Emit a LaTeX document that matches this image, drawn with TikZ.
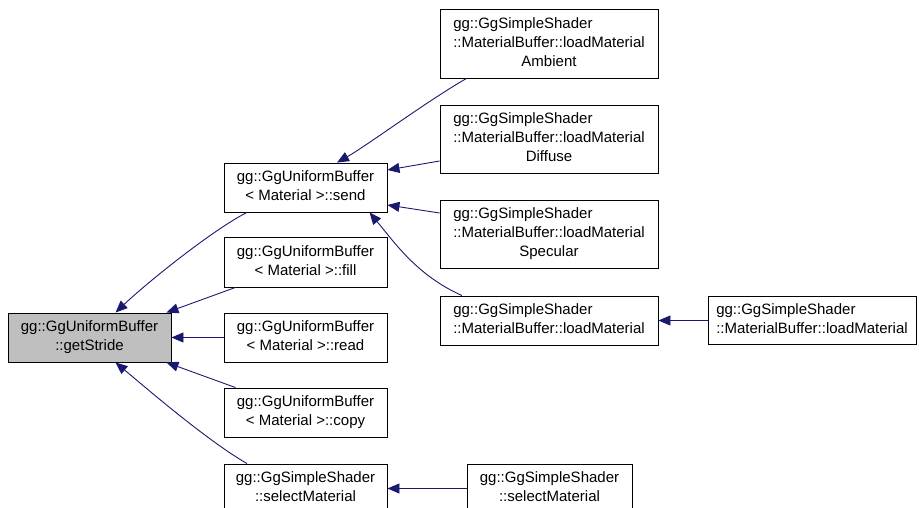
\documentclass[tikz,border=0pt]{standalone}
\usepackage{fontspec}
\setmainfont{Liberation Sans}
\usetikzlibrary{arrows.meta}
\definecolor{edgeblue}{HTML}{191970}
\definecolor{focusgray}{HTML}{BFBFBF}
% label: lines flush left, the last one centred
\newcommand\flab[1]{\begin{tabular}{@{}l@{}}#1\end{tabular}}
\newcommand\lastrow[1]{\multicolumn{1}{@{}c@{}}{#1}}
\begin{document}
\begin{tikzpicture}[x=1pt,y=-1pt,
  fn/.style={draw=black, line width=0.9pt, fill=white,
    inner sep=0pt, font=\fontsize{15}{19}\selectfont},
  focus/.style={fn, fill=focusgray},
  call/.style={draw=edgeblue, line width=0.9pt,
    -{Triangle[length=12pt,width=10pt]}, fill=none}]
\useasboundingbox (0,0) rectangle (919,508);

% functions
\node[focus, minimum width=163pt, minimum height=49pt] (stride) at (89.5,337.5)
  {\flab{gg::GgUniformBuffer\\\lastrow{::getStride}}};
\node[fn, minimum width=163pt, minimum height=49pt] (send) at (305.5,187.5)
  {\flab{gg::GgUniformBuffer\\\lastrow{< Material >::send}}};
\node[fn, minimum width=163pt, minimum height=50pt] (fillf) at (305.5,262)
  {\flab{gg::GgUniformBuffer\\\lastrow{< Material >::fill}}};
\node[fn, minimum width=163pt, minimum height=49pt] (readf) at (305.5,337.5)
  {\flab{gg::GgUniformBuffer\\\lastrow{< Material >::read}}};
\node[fn, minimum width=163pt, minimum height=49pt] (copyf) at (305.5,412.5)
  {\flab{gg::GgUniformBuffer\\\lastrow{< Material >::copy}}};
\node[fn, minimum width=163pt, minimum height=49pt] (selL) at (305.5,488.5)
  {\flab{gg::GgSimpleShader\\\lastrow{::selectMaterial}}};

\node[fn, minimum width=218pt, minimum height=69pt] (amb) at (549,43.5)
  {\flab{gg::GgSimpleShader\\::MaterialBuffer::loadMaterial\\\lastrow{Ambient}}};
\node[fn, minimum width=218pt, minimum height=68pt] (dif) at (549,139)
  {\flab{gg::GgSimpleShader\\::MaterialBuffer::loadMaterial\\\lastrow{Diffuse}}};
\node[fn, minimum width=218pt, minimum height=68pt] (spec) at (549,234)
  {\flab{gg::GgSimpleShader\\::MaterialBuffer::loadMaterial\\\lastrow{Specular}}};
\node[fn, minimum width=218pt, minimum height=49pt] (load) at (549,320.5)
  {\flab{gg::GgSimpleShader\\\lastrow{::MaterialBuffer::loadMaterial}}};
\node[fn, minimum width=208pt, minimum height=48pt] (loadR) at (812,320.5)
  {\flab{gg::GgSimpleShader\\\lastrow{::MaterialBuffer::loadMaterial}}};
\node[fn, minimum width=165pt, minimum height=49pt] (selR) at (549.5,488.5)
  {\flab{gg::GgSimpleShader\\\lastrow{::selectMaterial}}};

% calls (arrow points at the callee)
\draw[call] ([xshift=-58.5pt]send.south) .. controls +(-32,16) and +(35,-33) .. ([xshift=26pt]stride.north);
\draw[call] ([xshift=-70pt]fillf.south) -- ([xshift=-5pt]stride.north east);
\draw[call] (readf.west) -- (stride.east);
\draw[call] ([xshift=-70pt]copyf.north) -- ([xshift=-5pt]stride.south east);
\draw[call] ([xshift=-58.5pt]selL.north) .. controls +(-40,-23) and +(30,25) .. ([xshift=26pt]stride.south);

\draw[call] ([xshift=-82.5pt]amb.south) .. controls +(-40,23) and +(30,-17) .. ([xshift=31.5pt]send.north);
\draw[call] ([yshift=-22pt]dif.west) -- ([yshift=17.5pt]send.east);
\draw[call] ([yshift=21pt]spec.west) -- ([yshift=-17.5pt]send.east);
\draw[call] ([xshift=-87pt]load.north) .. controls +(-45,-20) and +(25,30) .. ([xshift=64pt]send.south);
\draw[call] (loadR.west) -- (load.east);
\draw[call] (selR.west) -- (selL.east);
\end{tikzpicture}
\end{document}
